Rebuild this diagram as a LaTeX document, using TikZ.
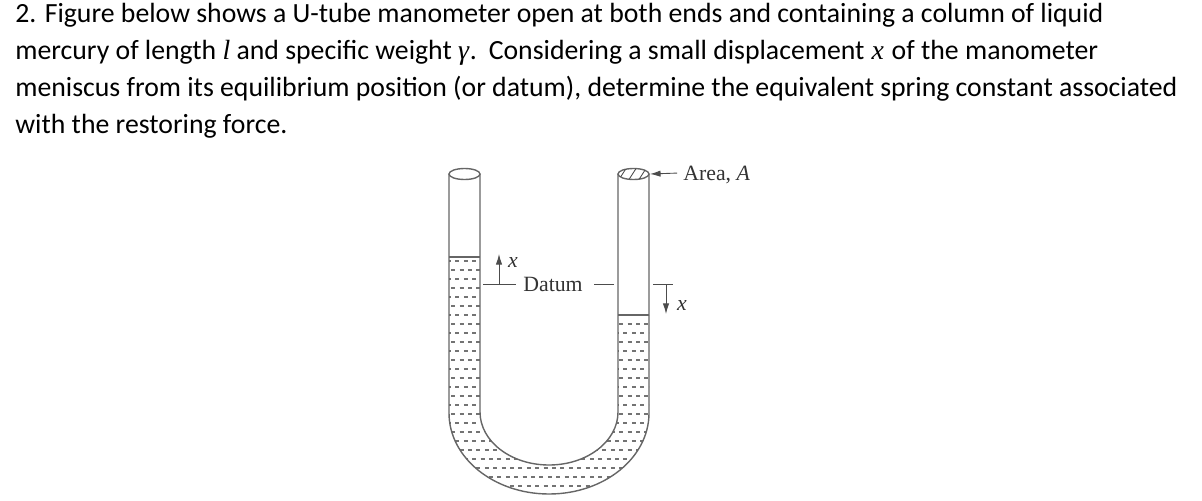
\documentclass[tikz,border=0pt]{standalone}
\usepackage{fontspec}
\usetikzlibrary{arrows.meta}
\setmainfont{Carlito}
\newfontfamily\figfont{Liberation Serif}
\newcommand{\figvar}[1]{{\figfont\itshape #1}}
\tikzset{
  textline/.style={anchor=base west, inner sep=0pt, font=\fontsize{15.8}{18}\selectfont},
  figlabel/.style={inner sep=0pt, text=black!80, font=\figfont\fontsize{12.4}{14}\selectfont},
  tube/.style={line width=.8pt, color=black!60},
  leader/.style={line width=.5pt, color=black!70},
  pointer/.style={leader, -{Latex[length=6pt,width=3.6pt]}}
}
\begin{document}
\begin{tikzpicture}[x=0.02cm, y=-0.02cm]
\useasboundingbox (0,0) rectangle (1202,500);
% question text
\node[textline] (lineone) at (15,23) {2. Figure below shows a U-tube manometer open at both ends and containing a column of liquid};
\node[textline] (linetwo) at (15,60) {mercury of length \figvar{l} and specific weight \figvar{γ}\kern.5pt.\kern2pt{} Considering a small displacement \kern.5pt\figvar{x}\kern.8pt{} of the manometer};
\node[textline] (linethree) at (15,96) {meniscus from its equilibrium position (or datum), determine the equivalent spring constant associated};
\node[textline] (linefour) at (15,133) {with the restoring force.};
% mercury dashes
\begin{scope}
\clip (449,257) -- (480,257) -- (480,412) arc (180:0:69 and 53) -- (618,315) -- (649,315) -- (649,413) arc (0:180:100 and 81) -- cycle;
\foreach \row in {0,...,26} {
  \pgfmathsetmacro{\shift}{mod(\row,2)*4.2}
  \foreach \col in {0,...,24} {
    \draw [black!55, line width=.6pt] ({447+\shift+\col*8.4},{261+\row*9}) -- ++(4,0);
  }
}
\end{scope}
% tube
\draw [tube] (449,174) -- (449,413) arc (180:0:100 and 81) -- (649,174);
\draw [tube] (480,174) -- (480,412) arc (180:0:69 and 53) -- (618,174);
\draw [tube] (464.5,174) ellipse (15.5 and 5.5);
\draw [tube] (633.5,174) ellipse (15.5 and 5.5);
\draw [tube] (449,257) -- (480,257);
\draw [tube] (618,315) -- (649,315);
% hatching of the area
\begin{scope}
\clip (633.5,174) ellipse (15.5 and 5.5);
\foreach \hatch in {618,628,638,648} {
  \draw [leader] (\hatch,181) -- (\hatch+9,167);
}
\end{scope}
% labels
\node[figlabel] (datum) at (553,284) {Datum};
\node[figlabel, anchor=west] (area) at (683,175) {Area, \textit{A}};
\node[figlabel] (xleft) at (513,262) {\textit{x}};
\node[figlabel] (xright) at (682,305) {\textit{x}};
\coordinate (datumleft) at (483,284);
\coordinate (datumright) at (614,284);
\coordinate (farleft) at (653,284);
\coordinate (farright) at (673,284);
\coordinate (upfoot) at (499,284);
\coordinate (uptip) at (499,254);
\coordinate (downfoot) at (666,284);
\coordinate (downtip) at (666,314);
\coordinate (areatip) at (650,174);
\draw [leader] (datumleft) -- ([xshift=-4pt]datum.west);
\draw [leader] (datumright) -- ([xshift=6.3pt]datum.east);
\draw [leader] (farleft) -- (farright);
\draw [pointer] (upfoot) -- (uptip);
\draw [pointer] (downfoot) -- (downtip);
\draw [pointer] ([xshift=-3.4pt,yshift=1.1pt]area.west) -- (areatip);
\end{tikzpicture}
\end{document}
